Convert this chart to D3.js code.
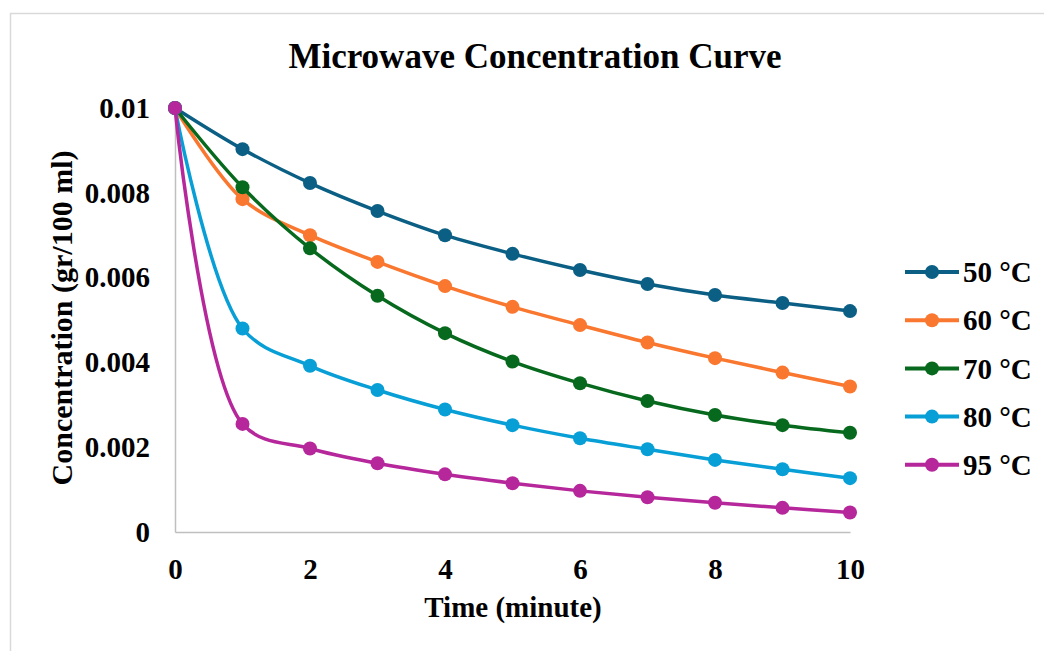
<!DOCTYPE html>
<html>
<head>
<meta charset="utf-8">
<script src="https://cdn.jsdelivr.net/npm/d3@7"></script>
<style>
  body { margin: 0; background: #fff; }
  text { font-family: "Liberation Serif", "Times New Roman", serif; font-weight: bold; fill: #000; }
</style>
</head>
<body>
<div id="chart"></div>
<script>
// Data
var timeMin = [0, 1, 2, 3, 4, 5, 6, 7, 8, 9, 10];
var seriesNames = ["50 °C", "60 °C", "70 °C", "80 °C", "95 °C"];
var seriesColors = ["#0b5f84", "#f9772f", "#07691d", "#079fd6", "#b5279a"];
var conc50 = [0.01, 0.00903, 0.00823, 0.00757, 0.00700, 0.00656, 0.00618, 0.00585, 0.00559, 0.00540, 0.00521];
var conc60 = [0.01, 0.00785, 0.00700, 0.00637, 0.00580, 0.00531, 0.00488, 0.00447, 0.00410, 0.00376, 0.00343];
var conc70 = [0.01, 0.00813, 0.00669, 0.00557, 0.00469, 0.00402, 0.00351, 0.00309, 0.00276, 0.00252, 0.00234];
var conc80 = [0.01, 0.00480, 0.00392, 0.00335, 0.00289, 0.00252, 0.00221, 0.00195, 0.00170, 0.00148, 0.00127];
var conc95 = [0.01, 0.00255, 0.00197, 0.00162, 0.00136, 0.00115, 0.00097, 0.00082, 0.00069, 0.00057, 0.00046];
var xTicks = [0, 2, 4, 6, 8, 10];
var yTicks = [0, 0.002, 0.004, 0.006, 0.008, 0.01];

var svgWidth = 1044;
var svgHeight = 651;

var margin = { top: 108, right: 194, bottom: 119, left: 175 };
var width = svgWidth - margin.left - margin.right;
var height = svgHeight - margin.top - margin.bottom;

var svg = d3.select("#chart")
  .append("svg")
  .attr("width", svgWidth)
  .attr("height", svgHeight);

// chart border
svg.append("rect")
  .attr("x", 10.5)
  .attr("y", 13.5)
  .attr("width", svgWidth)
  .attr("height", svgHeight)
  .attr("fill", "none")
  .attr("stroke", "#d9d9d9")
  .attr("stroke-width", 1.5);

var chartGroup = svg.append("g")
  .attr("transform", `translate(${margin.left}, ${margin.top})`);

// scales
var xScale = d3.scaleLinear().domain([0, 10]).range([0, width]);
var yScale = d3.scaleLinear().domain([0, 0.01]).range([height, 0]);

// axes
var bottomAxis = d3.axisBottom(xScale)
  .tickValues(xTicks)
  .tickSize(0)
  .tickPadding(26);
var leftAxis = d3.axisLeft(yScale)
  .tickValues(yTicks)
  .tickSize(0)
  .tickPadding(25)
  .tickFormat(d => String(+d.toFixed(3)));

var xAxis = chartGroup.append("g")
  .attr("transform", `translate(0, ${height})`)
  .call(bottomAxis);
var yAxis = chartGroup.append("g").call(leftAxis);

[xAxis, yAxis].forEach(function(ax) {
  ax.select(".domain").attr("stroke", "#bfbfbf").attr("stroke-width", 1.5);
  ax.selectAll("text")
    .attr("font-family", null)
    .style("font-size", "29px");
});

// lines + markers
var seriesData = [conc50, conc60, conc70, conc80, conc95];
var line = d3.line()
  .x((d, i) => xScale(timeMin[i]))
  .y(d => yScale(d))
  .curve(d3.curveCatmullRom.alpha(0.5));

seriesData.forEach(function(vals, s) {
  chartGroup.append("path")
    .datum(vals)
    .attr("d", line)
    .attr("fill", "none")
    .attr("stroke", seriesColors[s])
    .attr("stroke-width", 3.5);

  chartGroup.selectAll(null)
    .data(vals)
    .enter()
    .append("circle")
    .attr("cx", (d, i) => xScale(timeMin[i]))
    .attr("cy", d => yScale(d))
    .attr("r", 7)
    .attr("fill", seriesColors[s]);
});

// title
svg.append("text")
  .attr("x", 535)
  .attr("y", 68)
  .attr("text-anchor", "middle")
  .style("font-size", "35px")
  .text("Microwave Concentration Curve");

// axis labels
svg.append("text")
  .attr("x", 513)
  .attr("y", 617)
  .attr("text-anchor", "middle")
  .style("font-size", "29px")
  .text("Time (minute)");

svg.append("text")
  .attr("transform", "translate(72, 318) rotate(-90)")
  .attr("text-anchor", "middle")
  .style("font-size", "30px")
  .text("Concentration (gr/100 ml)");

// legend
var legend = svg.append("g")
  .attr("transform", "translate(905, 272)");

seriesNames.forEach(function(name, i) {
  var row = legend.append("g").attr("transform", `translate(0, ${i * 48.2})`);
  row.append("line")
    .attr("x1", 0).attr("x2", 54)
    .attr("stroke", seriesColors[i])
    .attr("stroke-width", 4);
  row.append("circle")
    .attr("cx", 27)
    .attr("r", 7)
    .attr("fill", seriesColors[i]);
  row.append("text")
    .attr("x", 58)
    .attr("dy", "0.35em")
    .style("font-size", "29px")
    .text(name);
});
</script>
</body>
</html>
